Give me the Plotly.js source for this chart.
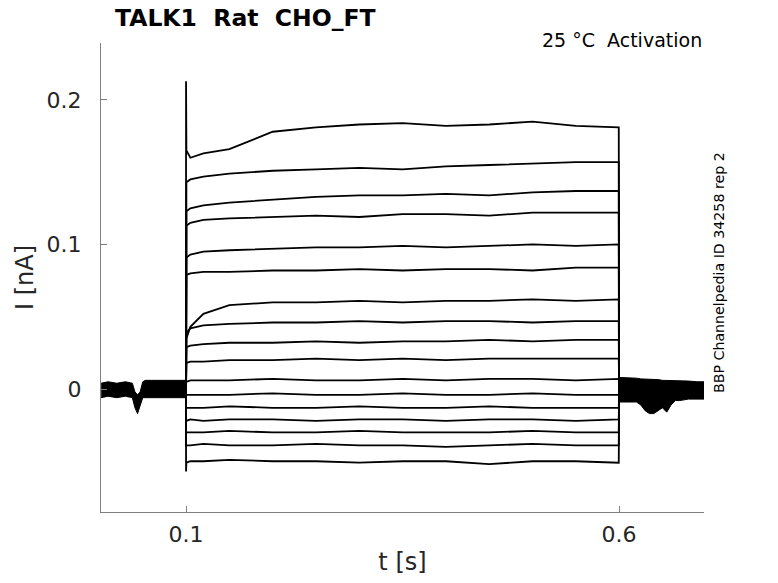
<!DOCTYPE html>
<html>
<head>
<meta charset="utf-8">
<script src="https://cdn.plot.ly/plotly-3.0.1.min.js"></script>
<style>
  html, body { margin: 0; padding: 0; background: #fff; }
  #chart { width: 778px; height: 583px; }
</style>
</head>
<body>
<div id="chart"></div>
<script>
// -----------------------
// Datos
// -----------------------
// tiempos del pulso (s)
const tPulse = [0.1, 0.1004, 0.105, 0.12, 0.15, 0.2, 0.25, 0.3, 0.35, 0.4, 0.45, 0.5, 0.55, 0.5996];

// corriente de cada barrido durante el pulso (nA), de arriba abajo
const sweeps = [
  [0.213, 0.165, 0.160, 0.163, 0.166, 0.178, 0.181, 0.183, 0.184, 0.182, 0.183, 0.185, 0.182, 0.181],
  [0.140, 0.143, 0.145, 0.147, 0.149, 0.151, 0.152, 0.153, 0.152, 0.154, 0.155, 0.156, 0.157, 0.157],
  [0.120, 0.123, 0.125, 0.127, 0.129, 0.131, 0.133, 0.134, 0.134, 0.135, 0.134, 0.136, 0.137, 0.137],
  [0.110, 0.113, 0.115, 0.117, 0.118, 0.119, 0.120, 0.119, 0.121, 0.121, 0.120, 0.122, 0.122, 0.122],
  [0.088, 0.091, 0.093, 0.095, 0.096, 0.097, 0.098, 0.098, 0.099, 0.098, 0.099, 0.100, 0.099, 0.100],
  [0.076, 0.079, 0.080, 0.081, 0.081, 0.082, 0.082, 0.083, 0.082, 0.083, 0.083, 0.082, 0.084, 0.084],
  [0.030, 0.035, 0.043, 0.052, 0.058, 0.060, 0.060, 0.061, 0.060, 0.061, 0.061, 0.062, 0.061, 0.062],
  [0.036, 0.039, 0.042, 0.044, 0.045, 0.046, 0.046, 0.047, 0.046, 0.047, 0.047, 0.046, 0.047, 0.047],
  [0.027, 0.029, 0.030, 0.031, 0.032, 0.032, 0.033, 0.032, 0.033, 0.033, 0.034, 0.033, 0.034, 0.034],
  [0.017, 0.018, 0.019, 0.019, 0.020, 0.020, 0.021, 0.020, 0.021, 0.020, 0.021, 0.021, 0.021, 0.021],
  [0.005, 0.005, 0.006, 0.006, 0.006, 0.007, 0.006, 0.006, 0.007, 0.006, 0.007, 0.007, 0.006, 0.007],
  [-0.005, -0.004, -0.004, -0.004, -0.004, -0.003, -0.004, -0.004, -0.003, -0.004, -0.004, -0.003, -0.004, -0.004],
  [-0.014, -0.013, -0.013, -0.013, -0.012, -0.013, -0.013, -0.012, -0.013, -0.013, -0.012, -0.013, -0.013, -0.013],
  [-0.023, -0.022, -0.021, -0.022, -0.021, -0.021, -0.022, -0.021, -0.021, -0.022, -0.021, -0.021, -0.022, -0.021],
  [-0.031, -0.030, -0.030, -0.030, -0.029, -0.030, -0.030, -0.029, -0.030, -0.030, -0.030, -0.029, -0.030, -0.030],
  [-0.040, -0.039, -0.039, -0.038, -0.039, -0.039, -0.038, -0.039, -0.039, -0.040, -0.039, -0.038, -0.039, -0.039],
  [-0.057, -0.051, -0.050, -0.050, -0.049, -0.050, -0.050, -0.051, -0.050, -0.050, -0.052, -0.050, -0.050, -0.051]
];

// banda de línea base antes del pulso (envolvente superior / inferior, nA)
const tPre  = [0.002, 0.01, 0.02, 0.03, 0.038, 0.041, 0.044, 0.047, 0.05, 0.053, 0.06, 0.07, 0.08, 0.09, 0.1];
const preHi = [0.004, 0.005, 0.004, 0.005, 0.004, -0.002, -0.004, -0.002, 0.005, 0.006, 0.006, 0.006, 0.006, 0.006, 0.006];
const preLo = [-0.006, -0.005, -0.006, -0.005, -0.006, -0.013, -0.017, -0.012, -0.006, -0.006, -0.006, -0.006, -0.006, -0.006, -0.006];

// banda después del pulso
const tPost  = [0.6, 0.61, 0.62, 0.625, 0.63, 0.635, 0.64, 0.645, 0.65, 0.655, 0.66, 0.665, 0.67, 0.68, 0.69, 0.698];
const postHi = [0.008, 0.008, 0.0075, 0.007, 0.007, 0.0065, 0.0065, 0.0065, 0.006, 0.006, 0.006, 0.006, 0.0055, 0.0055, 0.005, 0.005];
const postLo = [-0.009, -0.009, -0.009, -0.011, -0.015, -0.017, -0.017, -0.015, -0.013, -0.016, -0.011, -0.008, -0.008, -0.007, -0.007, -0.007];

const xTicks = [0.1, 0.6];
const xTickText = ["0.1", "0.6"];
const yTicks = [0, 0.1, 0.2];
const yTickText = ["0", "0.1", "0.2"];

// -----------------------
// Trazas
// -----------------------
const FONT = "DejaVu Sans, Liberation Sans, sans-serif";
const TXT = "#262626";
const AX = "#808080";

const traces = [];

function band(t, hi, lo) {
  traces.push({ x: t, y: hi, mode: "lines", line: { color: "#000", width: 1 }, hoverinfo: "skip" });
  traces.push({ x: t, y: lo, mode: "lines", line: { color: "#000", width: 1 },
                fill: "tonexty", fillcolor: "#000", hoverinfo: "skip" });
}
band(tPre, preHi, preLo);
band(tPost, postHi, postLo);

sweeps.forEach(vals => {
  traces.push({
    x: [0.1, ...tPulse, 0.6],
    y: [0, ...vals, 0],
    mode: "lines",
    line: { color: "#000", width: 1.8 },
    hoverinfo: "skip"
  });
});

const layout = {
  width: 778, height: 583,
  margin: { l: 101, r: 74, t: 43, b: 71 },
  paper_bgcolor: "#fff",
  plot_bgcolor: "#fff",
  showlegend: false,
  font: { family: FONT, color: TXT },
  title: {
    text: "<b>TALK1\u00a0\u00a0Rat\u00a0\u00a0CHO_FT</b>",
    font: { family: FONT, size: 23.5, color: "#000" },
    xref: "container", x: 115 / 778, xanchor: "left",
    yref: "container", y: 1 - 18 / 583, yanchor: "middle"
  },
  xaxis: {
    range: [0.0018, 0.698],
    showline: true, linecolor: AX, linewidth: 1,
    mirror: false,
    ticks: "inside", ticklen: 6, tickcolor: AX,
    tickvals: xTicks, ticktext: xTickText,
    tickfont: { size: 22, color: TXT },
    ticklabelstandoff: 3,
    showgrid: false, zeroline: false,
    title: { text: "t [s]", font: { size: 24, color: TXT }, standoff: 6 }
  },
  yaxis: {
    range: [-0.0851, 0.2394],
    showline: true, linecolor: AX, linewidth: 1,
    ticks: "inside", ticklen: 6, tickcolor: AX,
    tickvals: yTicks, ticktext: yTickText,
    tickfont: { size: 22, color: TXT },
    ticklabelstandoff: 14,
    showgrid: false, zeroline: false,
    title: { text: "I [nA]", font: { size: 24, color: TXT }, standoff: 6 }
  },
  annotations: [
    {
      text: "25 °C\u00a0\u00a0Activation",
      xref: "paper", x: 1, xanchor: "right",
      yref: "paper", y: (512 - 40) / 469, yanchor: "middle",
      showarrow: false,
      font: { size: 19, color: "#000" }
    },
    {
      text: "BBP Channelpedia ID 34258 rep 2",
      xref: "paper", x: (719 - 101) / 603, xanchor: "center",
      yref: "paper", y: (512 - 273) / 469, yanchor: "middle",
      textangle: -90,
      showarrow: false,
      font: { size: 14.2, color: "#000" }
    }
  ]
};

Plotly.newPlot("chart", traces, layout, { displayModeBar: false, staticPlot: true });
</script>
</body>
</html>
